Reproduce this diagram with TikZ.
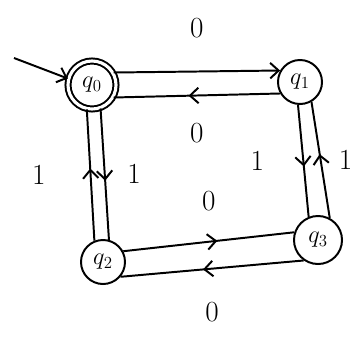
\documentclass[tikz,border=0pt]{standalone}
\usetikzlibrary{arrows.meta,decorations.markings}
\tikzset{
  dfa/state/.style={draw, circle, line width=1.4pt, minimum size=1.15cm, inner sep=0pt, font=\LARGE},
  dfa/accept/.style={double, double distance=2.2pt},
  dfa/edge/.style={line width=1.4pt, -{Straight Barb[length=6pt,width=11pt]}},
  dfa/midedge/.style={line width=1.4pt, postaction={decorate},
    decoration={markings, mark=at position 0.55 with {\arrow{Straight Barb[length=6pt,width=11pt]}}}},
  dfa/lbl/.style={font=\huge}
}

\begin{document}
\begin{tikzpicture}[x=0.025cm, y=-0.025cm]
  \useasboundingbox (0,0) rectangle (360,337);
  % states
  \node[dfa/state, dfa/accept, minimum size=1.2cm] (q0) at (92,85) {$q_0$};
  \node[dfa/state, minimum size=1.1cm] (q1) at (300,82) {$q_1$};
  \node[dfa/state, minimum size=1.1cm] (q2) at (103,262) {$q_2$};
  \node[dfa/state, minimum size=1.2cm] (q3) at (318,240) {$q_3$};
  \coordinate (start) at (14,58);

  % transitions
  \draw[dfa/edge] (start) -- (q0.165);
  \draw[dfa/edge] (q0.30) -- node[dfa/lbl, above=20pt] {$0$} (q1.150);
  \draw[dfa/midedge] (q1.210) -- node[dfa/lbl, below=16pt] {$0$} (q0.330);
  \draw[dfa/midedge] (q2.112) -- node[dfa/lbl, left=28pt] {$1$} (q0.258);
  \draw[dfa/midedge] (q0.290) -- node[dfa/lbl, right=12pt] {$1$} (q2.75);
  \draw[dfa/midedge] (q1.265) -- node[dfa/lbl, left=24pt] {$1$} (q3.112);
  \draw[dfa/midedge] (q3.62) -- node[dfa/lbl, right=9pt] {$1$} (q1.300);
  \draw[dfa/midedge] (q2.28) -- node[dfa/lbl, above=18pt] {$0$} (q3.162);
  \draw[dfa/midedge] (q3.235) -- node[dfa/lbl, below=20pt] {$0$} (q2.320);
\end{tikzpicture}
\end{document}
